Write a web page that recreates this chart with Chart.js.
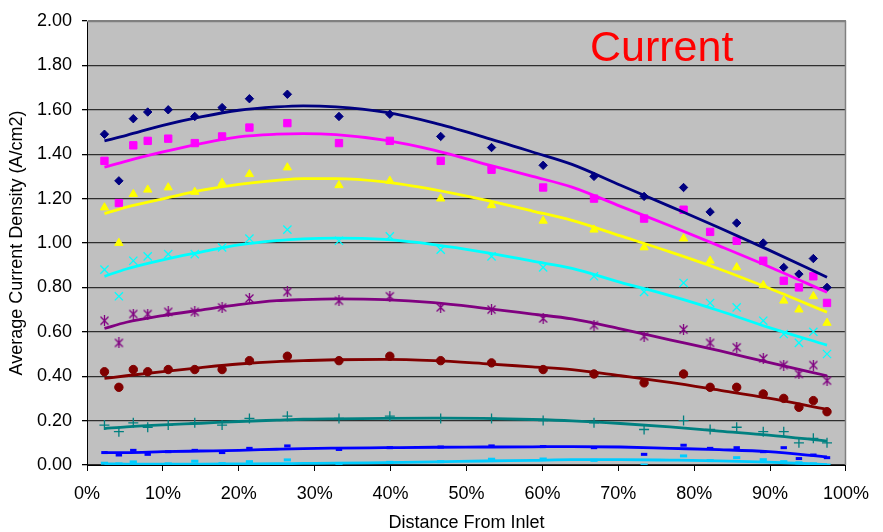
<!DOCTYPE html>
<html>
<head>
<meta charset="utf-8">
<title>Average Current Density</title>
<script src="https://cdn.jsdelivr.net/npm/chart.js@4.4.0/dist/chart.umd.min.js"></script>
<style>
  html, body { margin: 0; padding: 0; background: #ffffff; }
  #wrap { width: 883px; height: 532px; position: relative; }
</style>
</head>
<body>
<div id="wrap"><canvas id="chart"></canvas></div>
<script>
// Measurement positions along the channel (% of length from the inlet)
const distancePct = [2.3, 4.2, 6.1, 8.0, 10.7, 14.2, 17.8, 21.4, 26.4, 33.2, 39.9, 46.6,
                     53.3, 60.1, 66.8, 73.4, 78.6, 82.1, 85.6, 89.1, 91.8, 93.8, 95.7, 97.5];

// Measured average current density (A/cm2), one array per operating case
const current1 = [1.49, 1.28, 1.56, 1.59, 1.60, 1.57, 1.61, 1.65, 1.67, 1.57, 1.58, 1.48,
                  1.43, 1.35, 1.30, 1.21, 1.25, 1.14, 1.09, 1.00, 0.89, 0.86, 0.93, 0.80];
const current2 = [1.37, 1.18, 1.44, 1.46, 1.47, 1.45, 1.48, 1.52, 1.54, 1.45, 1.46, 1.37,
                  1.33, 1.25, 1.20, 1.11, 1.15, 1.05, 1.01, 0.92, 0.83, 0.80, 0.85, 0.73];
const current3 = [1.16, 1.00, 1.22, 1.24, 1.25, 1.23, 1.27, 1.31, 1.34, 1.26, 1.28, 1.20,
                  1.17, 1.10, 1.06, 0.98, 1.02, 0.92, 0.89, 0.81, 0.74, 0.70, 0.76, 0.64];
const current4 = [0.88, 0.76, 0.92, 0.94, 0.95, 0.95, 0.98, 1.02, 1.06, 1.01, 1.03, 0.97,
                  0.94, 0.89, 0.85, 0.78, 0.82, 0.73, 0.71, 0.65, 0.59, 0.55, 0.60, 0.50];
const current5 = [0.65, 0.55, 0.68, 0.68, 0.69, 0.69, 0.71, 0.75, 0.78, 0.74, 0.76, 0.71,
                  0.70, 0.66, 0.63, 0.58, 0.61, 0.55, 0.53, 0.48, 0.45, 0.41, 0.45, 0.38];
const current6 = [0.42, 0.35, 0.43, 0.42, 0.43, 0.43, 0.43, 0.47, 0.49, 0.47, 0.49, 0.47,
                  0.46, 0.43, 0.41, 0.37, 0.41, 0.35, 0.35, 0.32, 0.30, 0.26, 0.29, 0.24];
const current7 = [0.18, 0.15, 0.19, 0.17, 0.18, 0.19, 0.18, 0.21, 0.22, 0.21, 0.22, 0.21,
                  0.21, 0.20, 0.19, 0.16, 0.20, 0.16, 0.17, 0.15, 0.15, 0.10, 0.12, 0.10];
const current8 = [0.056, 0.045, 0.066, 0.048, 0.060, 0.066, 0.056, 0.075, 0.086, 0.070, 0.078, 0.081,
                  0.086, 0.083, 0.078, 0.048, 0.089, 0.075, 0.078, 0.060, 0.078, 0.029, 0.045, 0.033];
const current9 = [0.008, 0.005, 0.014, 0.000, 0.005, 0.017, 0.006, 0.015, 0.023, 0.005, 0.012, 0.015,
                  0.026, 0.027, 0.021, 0.000, 0.041, 0.020, 0.033, 0.024, 0.015, 0.010, 0.005, 0.000];

// Trend curves for each case, sampled along the channel
const trendPct = [2.3, 5.2, 10, 15, 20, 25, 28.5, 32.8, 39.2, 45.7, 52.2, 58.7,
                  63.9, 70.3, 76.8, 83.3, 89.8, 97.5];
const trend1 = [1.460, 1.485, 1.530, 1.568, 1.598, 1.613, 1.618, 1.613, 1.589, 1.541, 1.478, 1.410,
                1.354, 1.260, 1.165, 1.069, 0.969, 0.846];
const trend2 = [1.342, 1.369, 1.410, 1.448, 1.478, 1.490, 1.493, 1.488, 1.463, 1.418, 1.358, 1.300,
                1.252, 1.165, 1.078, 0.987, 0.894, 0.778];
const trend3 = [1.132, 1.162, 1.199, 1.237, 1.264, 1.282, 1.290, 1.290, 1.275, 1.240, 1.195, 1.144,
                1.102, 1.032, 0.960, 0.883, 0.797, 0.688];
const trend4 = [0.850, 0.883, 0.924, 0.959, 0.992, 1.011, 1.019, 1.022, 1.016, 0.993, 0.959, 0.918,
                0.886, 0.823, 0.763, 0.695, 0.620, 0.540];
const trend5 = [0.615, 0.643, 0.673, 0.698, 0.722, 0.740, 0.745, 0.748, 0.745, 0.731, 0.707, 0.680,
                0.658, 0.613, 0.564, 0.515, 0.462, 0.402];
const trend6 = [0.390, 0.402, 0.421, 0.439, 0.455, 0.466, 0.470, 0.474, 0.476, 0.470, 0.457, 0.442,
                0.430, 0.402, 0.372, 0.337, 0.301, 0.251];
const trend7 = [0.164, 0.172, 0.181, 0.188, 0.196, 0.202, 0.206, 0.208, 0.210, 0.211, 0.210, 0.205,
                0.199, 0.187, 0.172, 0.153, 0.135, 0.108];
const trend8 = [0.056, 0.056, 0.060, 0.063, 0.066, 0.071, 0.074, 0.076, 0.078, 0.080, 0.081, 0.082,
                0.083, 0.081, 0.075, 0.069, 0.060, 0.036];
const trend9 = [0.005, 0.004, 0.004, 0.004, 0.005, 0.006, 0.007, 0.008, 0.011, 0.014, 0.018, 0.021,
                0.024, 0.024, 0.022, 0.019, 0.013, 0.002];

// Axis tick definitions
const yTicks = [0, 0.2, 0.4, 0.6, 0.8, 1.0, 1.2, 1.4, 1.6, 1.8, 2.0];
const xTicks = [0, 10, 20, 30, 40, 50, 60, 70, 80, 90, 100];

const FONT = '"Liberation Sans", Arial, Helvetica, sans-serif';

// Asterisk marker (X with a vertical bar)
function makeAsterisk(color) {
  const c = document.createElement('canvas');
  c.width = 11; c.height = 11;
  const g = c.getContext('2d');
  g.strokeStyle = color; g.lineWidth = 1.3; g.lineCap = 'butt';
  g.beginPath();
  g.moveTo(1.5, 1.5); g.lineTo(9.5, 9.5);
  g.moveTo(9.5, 1.5); g.lineTo(1.5, 9.5);
  g.moveTo(5.5, 0); g.lineTo(5.5, 11);
  g.stroke();
  return c;
}

const seriesDefs = [
  { data: current1, trend: trend1, color: '#000080', style: 'rectRot', radius: 4.2, fill: true },
  { data: current2, trend: trend2, color: '#FF00FF', style: 'rect', radius: 5.2, fill: true },
  { data: current3, trend: trend3, color: '#FFFF00', style: 'triangle', radius: 4.8, fill: true },
  { data: current4, trend: trend4, color: '#00FFFF', style: 'crossRot', radius: 5.8, fill: false, bw: 1.3 },
  { data: current5, trend: trend5, color: '#800080', style: makeAsterisk('#800080'), radius: 5.5, fill: false },
  { data: current6, trend: trend6, color: '#800000', style: 'circle', radius: 4.2, fill: true },
  { data: current7, trend: trend7, color: '#008080', style: 'cross', radius: 5, fill: false, bw: 1.3 },
  { data: current8, trend: trend8, color: '#0000FF', style: 'line', radius: 3.2, fill: false, bw: 3 },
  { data: current9, trend: trend9, color: '#00CCFF', style: 'line', radius: 3.6, fill: false, bw: 3 }
];

const trendSets = seriesDefs.map(s => ({
  type: 'scatter',
  data: trendPct.map((x, i) => ({ x: x, y: s.trend[i] })),
  showLine: true,
  cubicInterpolationMode: 'monotone',
  borderColor: s.color,
  borderWidth: 2.8,
  pointRadius: 0,
  pointHoverRadius: 0,
  fill: false
}));

const pointSets = seriesDefs.map(s => ({
  type: 'scatter',
  data: distancePct.map((x, i) => ({ x: x, y: s.data[i] })),
  showLine: false,
  pointStyle: s.style,
  pointRadius: s.radius,
  pointHoverRadius: s.radius,
  pointBackgroundColor: s.fill ? s.color : 'rgba(0,0,0,0)',
  pointBorderColor: s.color,
  pointBorderWidth: s.bw || 1
}));

// Plot area fill, border and the in-plot "Current" caption
const plotDecor = {
  id: 'plotDecor',
  beforeDraw(chart) {
    const { ctx, chartArea: a } = chart;
    ctx.save();
    ctx.fillStyle = '#C0C0C0';
    ctx.fillRect(a.left, a.top, a.right - a.left, a.bottom - a.top);
    ctx.restore();
  },
  beforeDatasetsDraw(chart) {
    const { ctx, chartArea: a } = chart;
    ctx.save();
    ctx.strokeStyle = '#808080';
    ctx.lineWidth = 1.5;
    ctx.beginPath();
    ctx.moveTo(a.left, a.top + 0.5);
    ctx.lineTo(a.right - 0.5, a.top + 0.5);
    ctx.lineTo(a.right - 0.5, a.bottom);
    ctx.stroke();
    ctx.fillStyle = '#FF0000';
    ctx.font = '43px ' + FONT;
    ctx.textBaseline = 'alphabetic';
    ctx.textAlign = 'left';
    ctx.fillText('Current', a.left + 503, a.top + 40);
    ctx.restore();
  }
};

new Chart(document.getElementById('chart'), {
  type: 'scatter',
  data: { datasets: trendSets.concat(pointSets) },
  options: {
    responsive: true,
    maintainAspectRatio: false,
    devicePixelRatio: 1,
    animation: false,
    events: [],
    layout: { padding: { top: 21, right: 24, left: 0, bottom: 0 } },
    plugins: { legend: { display: false }, tooltip: { enabled: false }, title: { display: false } },
    scales: {
      x: {
        type: 'linear',
        min: 0, max: 100,
        afterBuildTicks: scale => { scale.ticks = xTicks.map(v => ({ value: v })); },
        ticks: {
          callback: v => v + '%',
          color: '#000',
          font: { family: FONT, size: 18, lineHeight: 1 },
          padding: 14,
          maxRotation: 0,
          autoSkip: false
        },
        grid: { drawOnChartArea: false, drawTicks: true, tickLength: 6, color: '#000', tickColor: '#000' },
        border: { color: '#000', width: 1 },
        title: {
          display: true,
          text: 'Distance From Inlet',
          color: '#000',
          font: { family: FONT, size: 18, lineHeight: 1 },
          padding: { top: 0, bottom: 0 }
        },
        afterFit: scale => { scale.height = 67; }
      },
      y: {
        type: 'linear',
        min: 0, max: 2,
        afterBuildTicks: scale => { scale.ticks = yTicks.map(v => ({ value: v })); },
        ticks: {
          callback: v => Number(v).toFixed(2),
          color: '#000',
          font: { family: FONT, size: 18 },
          padding: 10,
          autoSkip: false
        },
        grid: {
          color: c => (c.tick && c.tick.value >= 1.999) ? '#808080' : '#2e2e2e',
          lineWidth: 1.3,
          drawTicks: true,
          tickLength: 5,
          tickColor: '#000'
        },
        border: { color: '#000', width: 1 },
        title: {
          display: true,
          text: 'Average Current Density (A/cm2)',
          color: '#000',
          font: { family: FONT, size: 18, lineHeight: 1 },
          padding: { top: 8.5, bottom: 0 }
        },
        afterFit: scale => { scale.width = 87; }
      }
    }
  },
  plugins: [plotDecor]
});
</script>
</body>
</html>
